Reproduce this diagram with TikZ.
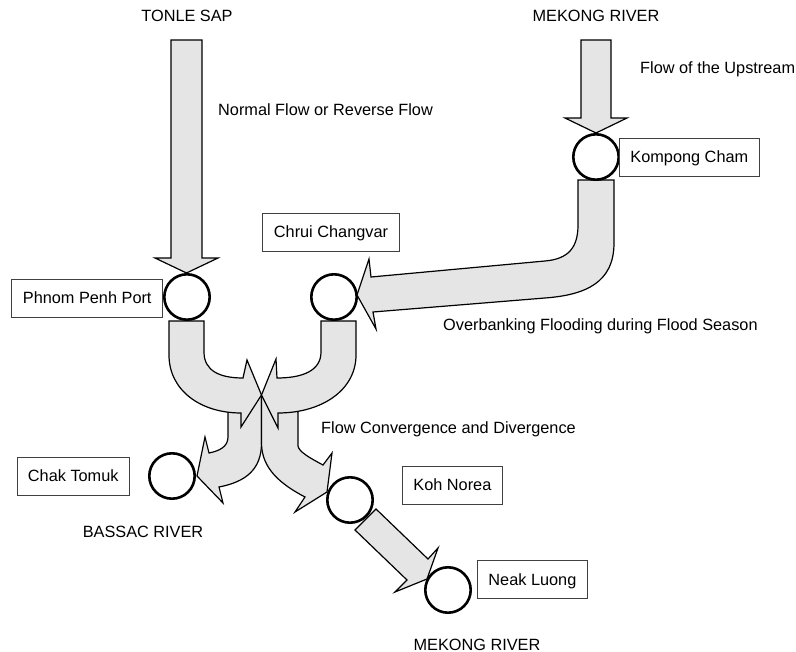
\documentclass[tikz,border=0pt]{standalone}
\usepackage{fontspec}
\setmainfont{Liberation Sans}

\begin{document}
\begin{tikzpicture}[
  x=1pt, y=-1pt,
  font=\fontsize{16.3}{19}\selectfont,
  flow/.style={
    fill=black!10,
    draw=black,
    line width=1.2pt,
    line join=miter
  },
  station/.style={
    circle,
    draw=black,
    line width=2.6pt,
    fill=white,
    minimum size=45.4pt,
    inner sep=0pt
  },
  sitebox/.style={
    draw=black!75,
    line width=0.9pt,
    fill=white,
    inner xsep=11pt,
    minimum height=38pt,
    text height=11.7pt,
    text depth=0pt
  },
  rivertext/.style={
    inner sep=0pt
  }
]

  \useasboundingbox (0,0) rectangle (796,652);

  % Straight inflows from the top.
  \draw[flow] (171,40) -- (202,40) -- (202,258) -- (218,258) -- (186.5,273)
    -- (155,258) -- (171,258) -- cycle; % Tonle Sap
  \draw[flow] (581,40) -- (611,40) -- (611,118) -- (627,118) -- (596,133)
    -- (565,118) -- (581,118) -- cycle; % Mekong upstream

  % Overbank flow, Kompong Cham to Chrui Changvar.
  \draw[flow] (578,180) -- (614,180) -- (614,243)
    .. controls (614,283) and (585,295) .. (545,298)
    -- (373,312) -- (376,329) -- (357,295) -- (369,259) -- (371,277)
    -- (545,261) .. controls (568,259) and (578,248) .. (578,225) -- cycle;

  % Divergence below the meeting point, drawn first so the bends cover them.
  \draw[flow] (228,412) -- (261.5,395) -- (261.5,443)
    .. controls (261.5,470) and (245,482) .. (219,487)
    -- (223,503) -- (197,476) -- (205,437) -- (209,453)
    .. controls (219,451) and (228,447) .. (228,437) -- cycle; % to Bassac
  \draw[flow] (261.5,395) -- (298,412) -- (298,446)
    .. controls (299,452) and (310,458) .. (323,465)
    -- (332,453) -- (327,492) -- (295,512) -- (305,497)
    .. controls (280,484) and (261.5,468) .. (261.5,443) -- cycle; % to Mekong

  % Convergence, both bends meet in one point.
  \draw[flow] (169,321) -- (204,321) -- (204,352)
    .. controls (204,371) and (220,378) .. (243,378)
    -- (247,360) -- (261.5,395) -- (241,427) -- (241,413)
    .. controls (200,413) and (169,390) .. (169,355) -- cycle;
  \draw[flow] (356,321) -- (321,321) -- (321,352)
    .. controls (321,371) and (302,378) .. (277,378)
    -- (276,359) -- (261.5,395) -- (278,428) -- (278,413)
    .. controls (322,413) and (356,390) .. (356,355) -- cycle;

  % Koh Norea down to Neak Luong.
  \draw[flow] (355,530) -- (376,509) -- (428,559) -- (438,548) -- (427,579)
    -- (395,592) -- (407,580) -- cycle;

  % Stations.
  \node[station] (pport)    at (187,297) {};
  \node[station] (chrui)    at (334,297) {};
  \node[station] (kcham)    at (596,157) {};
  \node[station] (chak)     at (172,476) {};
  \node[station] (kohnorea) at (350,500) {};
  \node[station] (neak)     at (448,590) {};

  % Station names.
  \node[sitebox, anchor=east] (pportname) at (163,298)   {Phnom Penh Port};
  \node[sitebox]              (chruiname) at (331,232)   {Chrui Changvar};
  \node[sitebox, anchor=west] (kchamname) at (619,157)   {Kompong Cham};
  \node[sitebox, anchor=east] (chakname)  at (130,476)   {Chak Tomuk};
  \node[sitebox, anchor=west] (kohname)   at (402,485)   {Koh Norea};
  \node[sitebox, anchor=west] (neakname)  at (477,579.5) {Neak Luong};

  % Rivers and flow notes.
  \node[rivertext, anchor=base]      (tonle)    at (187,22)  {TONLE SAP};
  \node[rivertext, anchor=base]      (mekongup) at (596,22)  {MEKONG RIVER};
  \node[rivertext, anchor=base west] (upstream) at (640,74)  {Flow of the Upstream};
  \node[rivertext, anchor=base west] (normal)   at (218,116) {Normal Flow or Reverse Flow};
  \node[rivertext, anchor=base west] (overbank) at (443,331) {Overbanking Flooding during Flood Season};
  \node[rivertext, anchor=base west] (converge) at (321,434) {Flow Convergence and Divergence};
  \node[rivertext, anchor=base]      (bassac)   at (143,537) {BASSAC RIVER};
  \node[rivertext, anchor=base]      (mekonglo) at (477,650) {MEKONG RIVER};

\end{tikzpicture}
\end{document}
